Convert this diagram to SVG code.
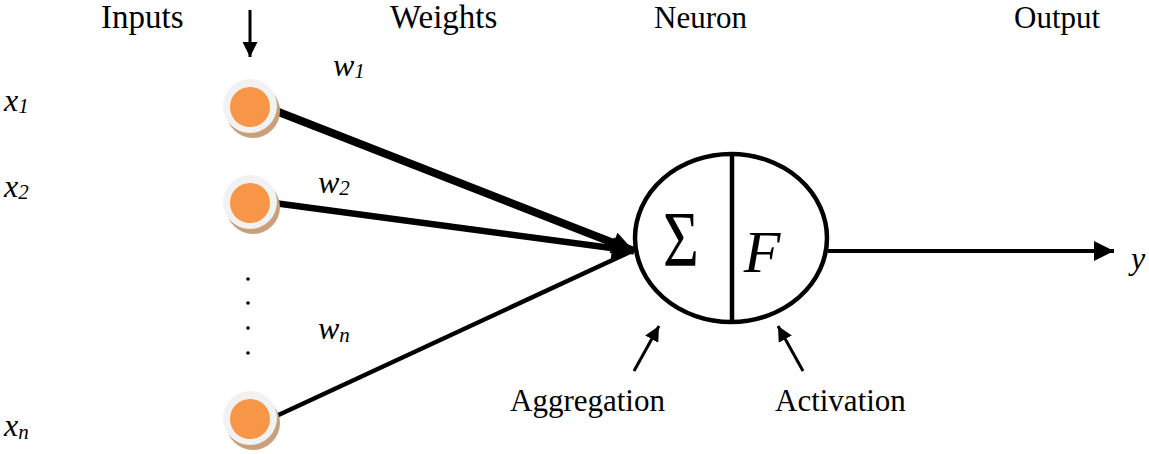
<svg xmlns="http://www.w3.org/2000/svg" width="1149" height="454" viewBox="0 0 1149 454">
<style>
.t{font-family:"Liberation Serif",serif;font-size:31px;fill:#000}
.v{font-family:"Liberation Serif",serif;font-style:italic;font-size:32px;fill:#000}
.s{font-size:21px}
.ln{stroke:#000;fill:none}
</style>
<defs>
<marker id="ah" viewBox="0 0 10 10" refX="10" refY="5" markerWidth="26" markerHeight="22" markerUnits="userSpaceOnUse" orient="auto"><path d="M0,0 L10,5 L0,10 z" fill="#000"/></marker>
<marker id="ab" viewBox="0 0 10 10" refX="10" refY="5" markerWidth="5" markerHeight="5" orient="auto"><path d="M0,0 L10,5 L0,10 z" fill="#000"/></marker>
<g id="inode">
<circle cx="3" cy="5" r="27" fill="#c9a07c"/>
<circle cx="0" cy="0" r="27" fill="#f2f2f2"/>
<circle cx="0" cy="1" r="20" fill="#f79646"/>
</g>
</defs>
<g id="labels">
<text class="t" x="101" y="28" style="font-size:33px">Inputs</text>
<text class="t" x="390" y="28" style="font-size:33px">Weights</text>
<text class="t" x="654" y="28">Neuron</text>
<text class="t" x="1014" y="28">Output</text>
<text class="t" x="510" y="411">Aggregation</text>
<text class="t" x="775" y="411">Activation</text>
<text class="v" x="4" y="111">x<tspan class="s" dy="2">1</tspan></text>
<text class="v" x="4" y="197">x<tspan class="s" dy="2">2</tspan></text>
<text class="v" x="4" y="436">x<tspan class="s" dy="3">n</tspan></text>
<text class="v" x="333" y="76">w<tspan class="s" dy="2">1</tspan></text>
<text class="v" x="318" y="193">w<tspan class="s" dy="2">2</tspan></text>
<text class="v" x="318" y="339">w<tspan class="s" dy="3">n</tspan></text>
<text class="v" x="1131" y="269">y</text>
<g fill="#000"><circle cx="248" cy="279" r="1.8"/><circle cx="248" cy="303" r="1.8"/><circle cx="248" cy="328" r="1.8"/><circle cx="248" cy="353" r="1.8"/></g>
</g>
<g id="connectors">
<line class="ln" x1="250" y1="10" x2="250" y2="57" stroke-width="3" marker-end="url(#ab)"/>
<line class="ln" x1="276" y1="111" x2="634" y2="251" stroke-width="8" marker-end="url(#ah)"/>
<line class="ln" x1="274" y1="203" x2="634" y2="251" stroke-width="6.5" marker-end="url(#ah)"/>
<line class="ln" x1="272" y1="418" x2="630" y2="252" stroke-width="4.5"/>
<line class="ln" x1="828" y1="251" x2="1114" y2="251" stroke-width="4" marker-end="url(#ab)"/>
<line class="ln" x1="634" y1="371" x2="659" y2="326" stroke-width="3" marker-end="url(#ab)"/>
<line class="ln" x1="803" y1="371" x2="778" y2="326" stroke-width="3" marker-end="url(#ab)"/>
</g>
<g id="in1"><use href="#inode" x="250" y="106"/></g>
<g id="in2"><use href="#inode" x="250" y="202"/></g>
<g id="inn"><use href="#inode" x="250" y="418"/></g>
<g id="neuron">
<ellipse cx="731" cy="238" rx="96" ry="84" fill="#fff" stroke="#000" stroke-width="4.5"/>
<line x1="732" y1="155" x2="732" y2="322" stroke="#000" stroke-width="4.5"/>
<text transform="translate(681,265) scale(1.1,1.4)" text-anchor="middle" style="font-family:'Liberation Serif',serif;font-size:56px">Σ</text>
<text x="762" y="272" text-anchor="middle" style="font-family:'Liberation Serif',serif;font-style:italic;font-size:60px">F</text>
</g>
</svg>
